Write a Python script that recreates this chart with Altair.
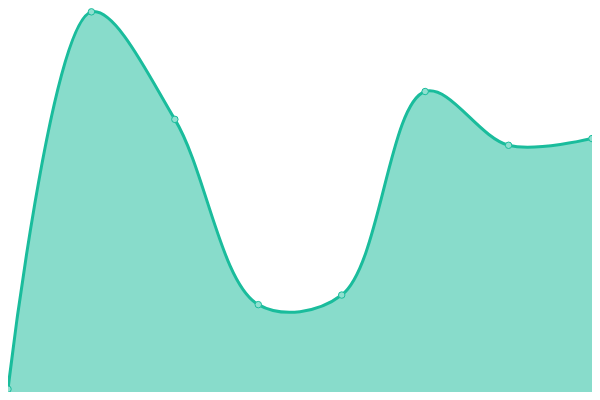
import altair as alt
import pandas as pd

xs = [0, 1, 2, 3, 4, 5, 6, 7]
values = [0.75, 99, 71, 22.75, 25.25, 78.25, 64.25, 66]

df = pd.DataFrame({"x": xs, "v": values})

COLOR = "#1abc9c"

x = alt.X("x:Q", scale=alt.Scale(domain=[0, 7], nice=False, zero=False), axis=None)
y = alt.Y("v:Q", scale=alt.Scale(domain=[0, 100], nice=False), axis=None)

base = alt.Chart(df)
area = base.mark_area(interpolate="catmull-rom", color=COLOR, opacity=0.52).encode(x=x, y=y)
line = base.mark_line(interpolate="catmull-rom", color=COLOR, strokeWidth=3).encode(x=x, y=y)
pts = base.mark_point(filled=True, fill="#8fe0d0", stroke=COLOR, strokeWidth=1, size=42, opacity=1).encode(x=x, y=y)

chart = alt.layer(area, line, pts).properties(
    width=584, height=384, padding=0, autosize=alt.AutoSizeParams(type="none")
).configure_view(stroke=None)

chart.save("out.html", embed_options={"renderer": "svg", "actions": False})
